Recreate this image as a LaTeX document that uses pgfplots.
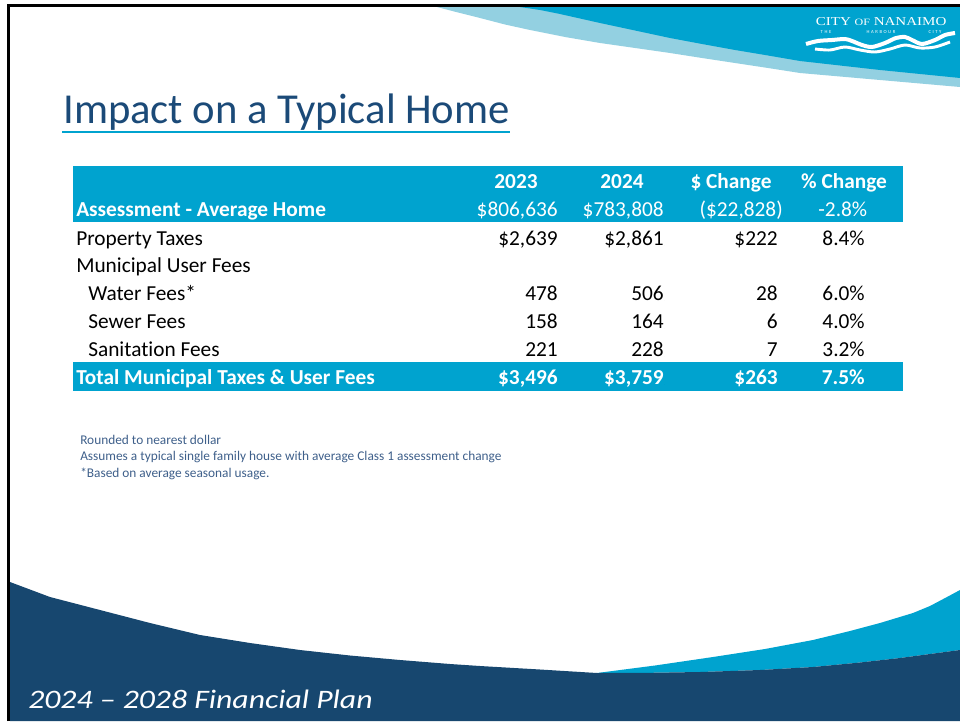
\documentclass[border=0pt]{standalone}
\usepackage{fontspec}
\setmainfont{Carlito}[Ligatures=NoCommon]
\newfontfamily\logofont{Liberation Serif}
\usepackage{pgfplots}
\pgfplotsset{compat=1.18}

\definecolor{tblblue}{HTML}{00A3CF}
\definecolor{navy}{HTML}{17476F}
\definecolor{paleblue}{HTML}{93D0E1}
\definecolor{titleblue}{HTML}{1B4A78}
\definecolor{notegray}{HTML}{3E5F8A}

\pgfplotsset{
  cell/.style={only marks, mark=*, mark size=0pt,
    mark options={draw=none, fill=none},
    point meta=explicit symbolic, nodes near coords,
    every node near coord/.style={anchor=base east, inner sep=0pt,
      text opacity=1, font=\fontsize{16}{19}\selectfont, text=#1}},
}

\begin{document}
\begin{tikzpicture}
\begin{axis}[
    x=0.75pt, y=0.75pt, y dir=reverse,
    xmin=0, xmax=960, ymin=0, ymax=721,
    hide axis,
    scale only axis,
]
\coordinate (TL) at (axis cs:0,0);
\coordinate (BR) at (axis cs:960,721);
% top swoosh
\addplot[fill=paleblue, draw=none] coordinates {
    (437,7) (960,7) (960,87) (920,83.5) (880,80) (840,76.5) (800,73) (768,68)
    (735,63) (702,58) (670,53) (635,48) (600,43) (565,37) (530,30) (505,24.5)
    (480,18) (458,12.5) (437,7)};
\addplot[fill=tblblue, draw=none] coordinates {
    (520,7) (960,7) (960,78) (920,74) (880,70) (840,65.5) (800,61) (768,55.5)
    (735,50) (702,44) (670,38) (635,30.5) (600,23) (580,18.5) (560,14) (540,10) (520,7)};
% bottom band
\addplot[fill=tblblue, draw=none] coordinates {
    (597,673) (655,665.5) (713,657) (765,649) (813,640) (850,631) (880,623)
    (913,613) (930,606) (947,597) (960,590)
    (960,650) (930,654) (900,658) (860,662.5) (813,667) (760,670) (700,672) (650,672.8)};
\addplot[fill=navy, draw=none] coordinates {
    (10,582) (50,597) (100,610) (150,623) (200,635) (250,643) (300,650) (350,655.5)
    (400,660) (450,664) (480,666) (540,669.5) (597,673)
    (650,672.8) (700,672) (760,670) (813,667) (860,662.5) (900,658) (930,654)
    (960,650) (960,721) (10,721)};
% slide frame
\addplot[black, line width=2.25pt] coordinates {(8,721) (8,5.5) (960,5.5)};

% logo waves
\addplot[white, line width=3pt, smooth] coordinates {
    (806,44) (818,41) (832,40) (845,39) (852,41) (862,45) (872,47) (885,43)
    (896,38) (905,37) (912,40) (922,44) (935,40) (945,35) (955,33)};
\addplot[white, line width=2.2pt, smooth] coordinates {
    (815,49) (830,50) (845,47) (860,50) (875,52) (890,49) (905,45)
    (920,48) (935,47) (950,42)};
\node[anchor=base west, inner sep=0pt, text=white] at (axis cs:815.5,25.7)
    {\resizebox{98pt}{6pt}{\logofont CITY {\footnotesize OF} NANAIMO}};
\node[text=white, inner sep=0pt, font=\fontsize{3.5}{4}\selectfont] at (axis cs:826,32) {T\,\,H\,\,E};
\node[text=white, inner sep=0pt, font=\fontsize{3.5}{4}\selectfont] at (axis cs:881,32) {H\,\,A\,\,R\,\,B\,\,O\,\,U\,\,R};
\node[text=white, inner sep=0pt, font=\fontsize{3.5}{4}\selectfont] at (axis cs:935,32) {C\,\,I\,\,T\,\,Y};

% title
\node[anchor=base west, inner sep=0pt, text=titleblue,
      font=\fontsize{32}{38}\selectfont] at (axis cs:63,123.3) {Impact on a Typical Home};
\addplot[tblblue, line width=1.5pt] coordinates {(62,132) (510,132)};

% table bands
\addplot[fill=tblblue, draw=none] coordinates {(73,166) (903,166) (903,221.5) (73,221.5)};
\addplot[fill=tblblue, draw=none] coordinates {(73,362) (903,362) (903,390.5) (73,390.5)};

% header row
\begin{scope}[every node/.style={anchor=base, inner sep=0pt, text=white,
      font=\fontsize{16}{19}\selectfont\bfseries}]
\node at (axis cs:516,188) {2023};
\node at (axis cs:622,188) {2024};
\node at (axis cs:731,188) {\$ Change};
\node at (axis cs:844,188) {\% Change};
\end{scope}

% row labels
\begin{scope}[every node/.style={anchor=base west, inner sep=0pt,
      font=\fontsize{16}{19}\selectfont}]
\node[text=white, font=\fontsize{16}{19}\selectfont\bfseries] at (axis cs:76,216) {Assessment - Average Home};
\node at (axis cs:76,245) {Property Taxes};
\node at (axis cs:76,272) {Municipal User Fees};
\node at (axis cs:88,300) {Water Fees*};
\node at (axis cs:88,328) {Sewer Fees};
\node at (axis cs:88,356) {Sanitation Fees};
\node[text=white, font=\fontsize{16}{19}\selectfont\bfseries] at (axis cs:76,384) {Total Municipal Taxes \& User Fees};
\end{scope}

% assessment values
\addplot[cell=white] coordinates {
    (558,216) [\$806,636] (664,216) [\$783,808] (783,216) [(\$22,828)] (867.5,216) [-2.8\%]};
% body values
\addplot[cell=black] coordinates {
    (558,245) [\$2,639] (664,245) [\$2,861] (778,245) [\$222] (865,245) [8.4\%]
    (558,300) [478] (664,300) [506] (778,300) [28] (865,300) [6.0\%]
    (558,328) [158] (664,328) [164] (778,328) [6] (865,328) [4.0\%]
    (558,356) [221] (664,356) [228] (778,356) [7] (865,356) [3.2\%]};
% totals
\addplot[cell=white, every node near coord/.append style={font=\fontsize{16}{19}\selectfont\bfseries}] coordinates {
    (558,384) [\$3,496] (664,384) [\$3,759] (778,384) [\$263] (865,384) [7.5\%]};

% notes
\begin{scope}[every node/.style={anchor=base west, inner sep=0pt, text=notegray,
      font=\fontsize{10}{12}\selectfont}]
\node at (axis cs:80,444) {Rounded to nearest dollar};
\node at (axis cs:80,460.5) {Assumes a typical single family house with average Class 1 assessment change};
\node at (axis cs:80,477) {*Based on average seasonal usage.};
\end{scope}

% footer
\node[anchor=base west, inner sep=0pt, text=white] at (axis cs:28,708.3)
    {\addfontfeatures{FakeStretch=1.19}\fontsize{20}{24}\selectfont\itshape 2024 -- 2028 Financial Plan};
\end{axis}
\pgfresetboundingbox
\path[use as bounding box] (TL) rectangle (BR);
\end{tikzpicture}
\end{document}
